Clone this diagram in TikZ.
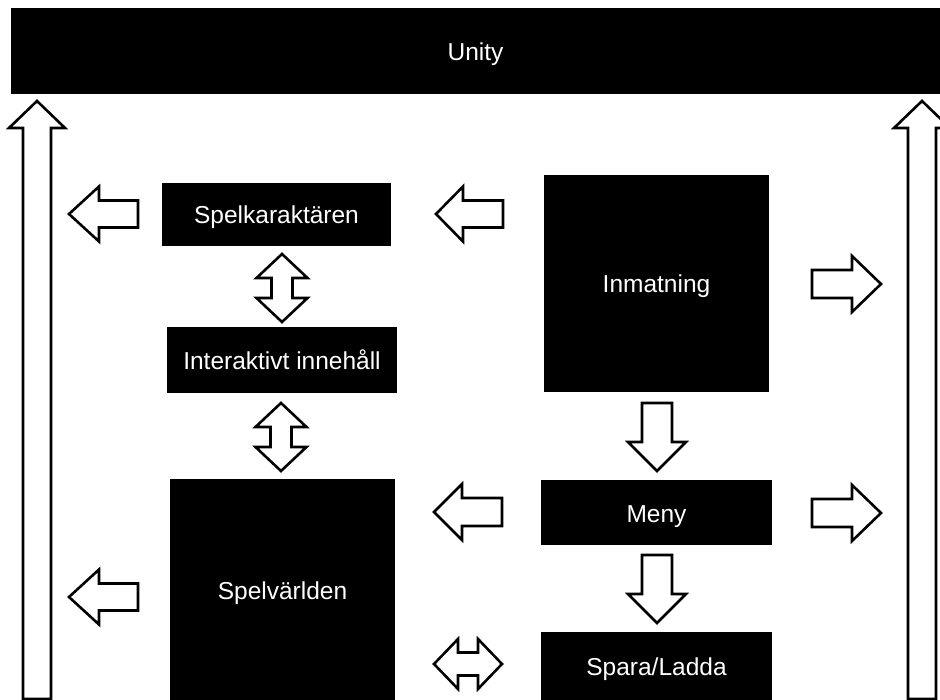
\documentclass[tikz,border=0pt]{standalone}
\usepackage{fontspec}
\setmainfont{Liberation Sans}
\begin{document}
\begin{tikzpicture}[x=1pt,y=-1pt,
  box/.style={fill=black, draw=none, text=white, inner sep=0pt, font=\fontsize{24.5}{29}\selectfont, text height=19pt, text depth=0pt},
  arrowline/.style={draw=black, fill=white, line width=2.6pt, line join=miter},
  pics/sarrow/.style n args={4}{code={
    \draw[arrowline] (0,-#3) -- (#1-#2,-#3) -- (#1-#2,-#4) -- (#1,0) -- (#1-#2,#4) -- (#1-#2,#3) -- (0,#3) -- cycle;}},
  pics/darrow/.style n args={4}{code={
    \draw[arrowline] (0,0) -- (#2,-#4) -- (#2,-#3) -- (#1-#2,-#3) -- (#1-#2,-#4) -- (#1,0) -- (#1-#2,#4) -- (#1-#2,#3) -- (#2,#3) -- (#2,#4) -- cycle;}}
]
\useasboundingbox (0,0) rectangle (940,700);
\clip (0,0) rectangle (940,700);

% boxes
\node[box, minimum width=929pt, minimum height=86pt] (unity) at (475.5,51) {Unity};
\node[box, minimum width=229pt, minimum height=63pt] (karaktar) at (276.5,214.5) {Spelkaraktären};
\node[box, minimum width=230pt, minimum height=66pt] (interaktivt) at (282,360) {Interaktivt innehåll};
\node[box, minimum width=225pt, minimum height=221pt] (varld) at (282.5,589.5) {Spelvärlden};
\node[box, minimum width=225pt, minimum height=217pt] (inmatning) at (656.5,283.5) {Inmatning};
\node[box, minimum width=231pt, minimum height=65pt] (meny) at (656.5,512.5) {Meny};
\node[box, minimum width=231pt, minimum height=68pt] (spara) at (656.5,666) {Spara/Ladda};

% big up arrows
\pic[rotate=90] at (37,699) {sarrow={598}{27}{14}{28}};
\pic[rotate=90] at (922,699) {sarrow={598}{27}{14}{28}};

% left arrows
\pic[rotate=180] at (138,214) {sarrow={69}{30}{13.5}{27.5}};
\pic[rotate=180] at (503,214) {sarrow={67}{27}{13.5}{27.5}};
\pic[rotate=180] at (502,512) {sarrow={68}{28}{14}{28}};
\pic[rotate=180] at (138,597) {sarrow={69}{30}{13.5}{27.5}};

% right arrows
\pic at (812,284) {sarrow={69}{29}{14}{28}};
\pic at (812,513) {sarrow={69}{29}{14}{28}};

% down arrows
\pic[rotate=-90] at (657,403) {sarrow={68}{29}{15}{29}};
\pic[rotate=-90] at (657,555) {sarrow={68}{29}{15}{29}};

% double arrows
\pic[rotate=-90] at (282,254) {darrow={68}{24}{10.5}{25.5}};
\pic[rotate=-90] at (281,403) {darrow={68}{24}{10.5}{25.5}};
\pic at (434,664) {darrow={68}{24}{11.5}{25}};
\end{tikzpicture}
\end{document}
